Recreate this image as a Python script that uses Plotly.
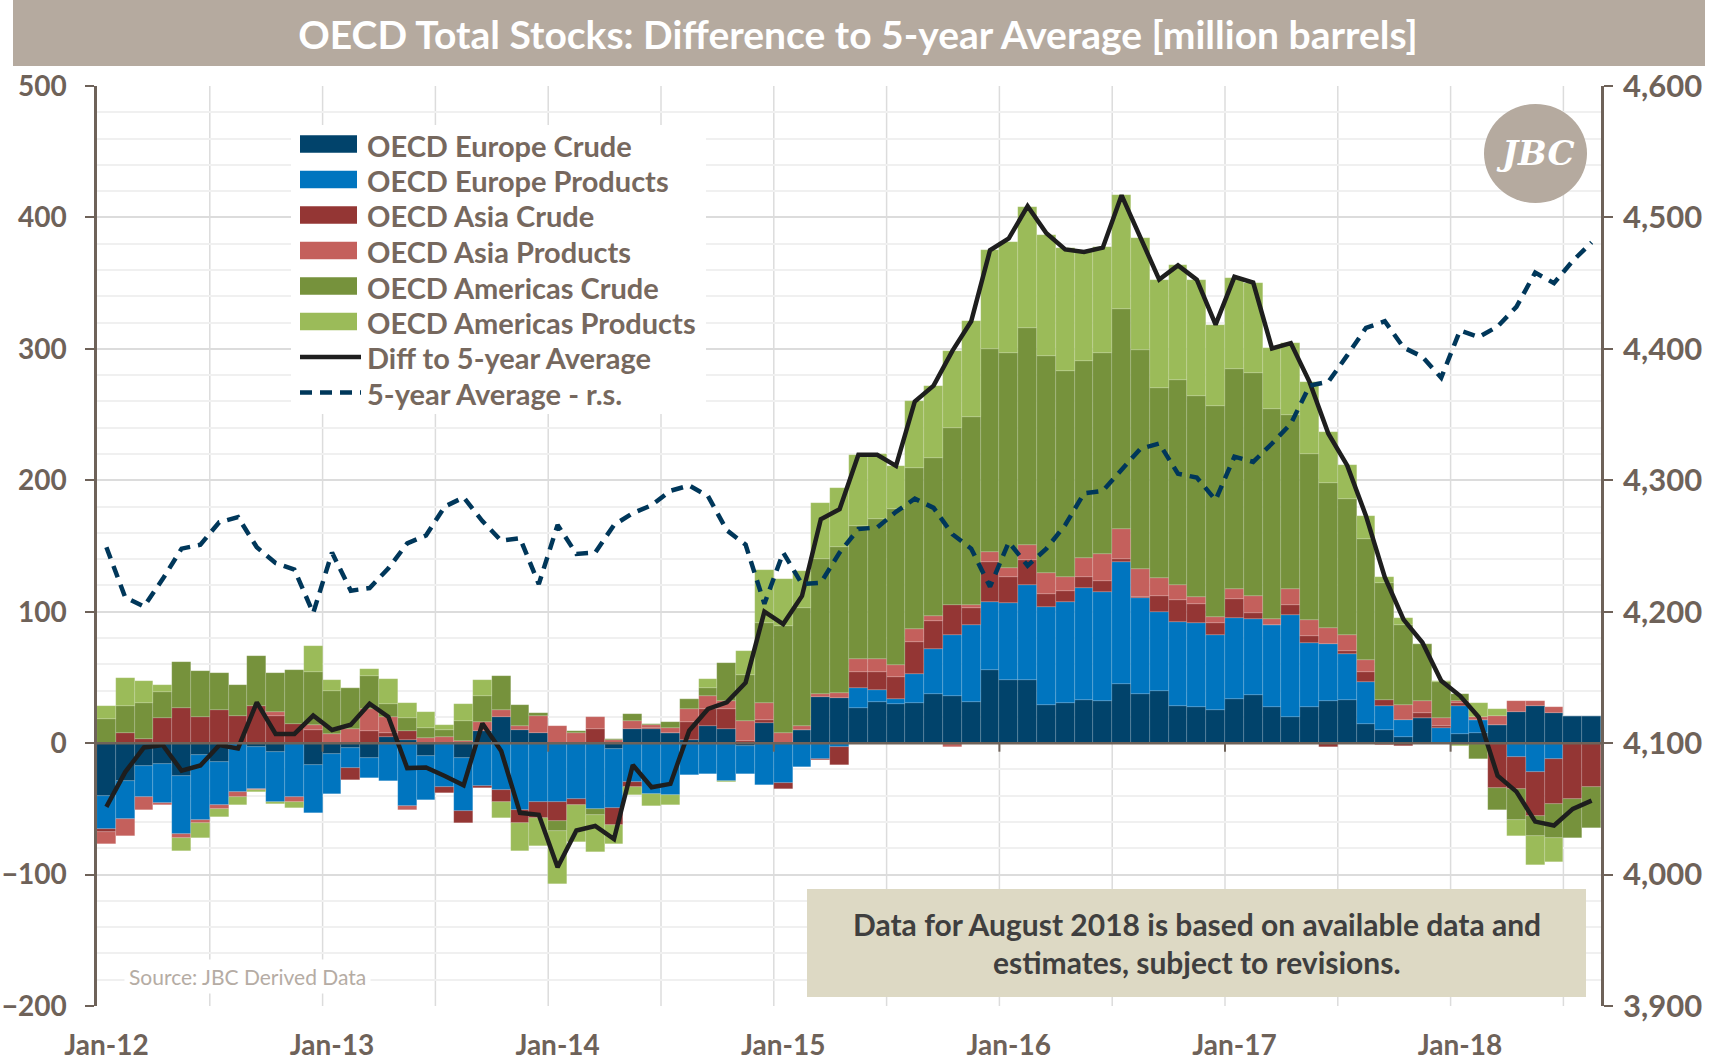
import pandas as pd
import plotly.graph_objects as go

months = list(pd.date_range("2012-01-01", periods=80, freq="MS").strftime("%b-%y"))
year_ticks = [m for m in months if m.startswith("Jan")]

eu_crude = [-40.5, -29, -17.7, -15.5, -25, -9, -14, 0, -3, -7,
            0, -16.7, -8.4, -4, -11.4, 5, 2.5, -10, 0, -11,
            9.4, 20, 10, 8, -1, 0, 0, -4.6, 10.6, 11,
            7.8, 2.5, 12.7, 10.6, -2.5, 15.7, 0, 10, 34.9, 34,
            27, 31.4, 29.7, 30.4, 37.3, 35.6, 31.4, 55.8, 48.3, 47.7,
            28.8, 30.8, 33.2, 31.7, 44.8, 37.5, 39.6, 28, 27.4, 25,
            33.8, 36.7, 27.4, 20, 27.4, 31.7, 32.6, 14.3, 9.9, 4.3,
            18.9, 0, 6.8, 8.1, 13.7, 23.8, 28.4, 22.6, 20.8, 20.8]
eu_prod = [-25, -28.6, -23, -30, -44, -49.5, -33, -37, -32, -37.5,
           -41, -36.5, -30.4, -15, -15, -29, -48, -33, -33, -40.5,
           -32.4, -35.5, -50.7, -45, -44, -42.4, -50, -44.4, -29.4, -38.6,
           -39.4, -24, -23.5, -28.6, -21, -32, -30, -18.5, -11.7, -3,
           15, 9, 3.8, 22, 34.7, 46.6, 58.3, 51.7, 58.2, 72.3,
           74.8, 76.6, 84.8, 83.5, 93.2, 72.8, 60.4, 64, 64, 57,
           61.1, 57.6, 62.6, 77.2, 48.9, 43.7, 35.5, 32, 18, 13.4,
           0, 11.2, 21.5, 9.6, 0, -10.9, -22.3, -11.7, 0, 0]
asia_crude = [-2, 7.6, 3.5, 18.8, 26.4, 20, 25.3, 21, 28, 21,
              14.4, 10, 0, -9.4, 9.4, 3, 7, 0, -5, -9.4,
              -2, -9.6, -10.4, -12, -14, -4.6, 10.6, -13.4, -3.8, 0.8,
              0, 13.7, 13.2, 15.7, 1.5, 1.8, -5, 0, -1.3, -14,
              12, 14, 16.5, 24.6, 21, 23, 13.4, 30, 19.8, 19.4,
              9.6, 8.6, 8.3, 8.2, 2, 0.7, 11.8, 16.8, 14.6, 9.4,
              14.5, 4.4, 0, 8.2, 4.9, -3.2, 2.3, 7.8, 4.7, -2,
              4, 2, 2, 0, -34.5, -24, -33, -34.7, -42.5, -33.6]
asia_prod = [-9.6, -13.4, -10, -1.5, -3, -2.3, -3, -4, -1, 2.5,
             -4, 3.5, 7, 11, 16.5, 12, -3, 4, 4.3, 1.5,
             6.8, 5.3, 3, 12.7, 12.7, 8, 9, 2.5, 6.3, 1.8,
             3.5, 10, 10, 6, 15.5, 13.4, 7.6, 3, 2.5, 4,
             10, 9.6, 9.4, 9.6, 3.8, -3, 1.8, 8, 7.3, 11.6,
             16.6, 10.3, 14.6, 20.4, 22.7, 21.7, 13.9, 11.2, 5.2, 4.3,
             8.2, 13.6, 4.3, 11.6, 12.5, 12.5, 11.6, 8.8, -1.5, 11.2,
             9.4, 5.6, 1.8, 2.5, 6.6, 8.4, 3.8, 5, 0, 0]
am_crude = [18, 21, 27, 20, 35, 35, 28.4, 23, 38.5, 30,
            41, 40.5, 33, 31, 25, 10, 10, 7.6, 5.8, 15.5,
            20, 26, 16, 2.5, -7.6, 1, -4.6, 0.5, 5.3, 1,
            5, 7.6, 6.3, 28.6, 34.7, 60.3, 81.6, 90.2, 103, 111,
            101, 106.5, 118.6, 122.4, 120.4, 134.8, 143, 154.4, 163, 165,
            164.7, 157.2, 149.8, 152.8, 167.3, 166.8, 144.7, 156, 153.3, 161,
            167.4, 169.7, 160.1, 133, 126.3, 109.7, 104, 92.5, 89.4, 61,
            43, 27.4, 5, -11.7, -16.2, -23.3, -15.2, -26, -30, -31.2]
am_prod = [10.6, 21, 17, 5.8, -10, -11, -6, -6, -1.5, -2,
           -4.3, 20, 8, 0, 5.6, 19, 11.4, 12.4, 3.5, 12.7,
           12, -12, -21, -21, -40.5, -28.4, -28, -14.5, -6.3, -8.9,
           -8, 0, 6.8, -1.3, 18.5, 40.3, 35.5, 27.9, 42.6, 45,
           54, 49.4, 33, 51, 54.6, 58.5, 73, 75, 84.4, 92,
           92.3, 93.1, 83.6, 80.6, 86.8, 85, 82.3, 87.5, 88.2, 61.7,
           69, 68.4, 46.6, 54.4, 54.7, 39.3, 25.3, 17.5, 4.3, 5.7,
           0.5, 1.3, -2.5, 10, 5.6, -12.2, -22.3, -18.3, 0, 0]
diff_5y = [-48.5, -22, -3.3, -1.5, -21, -17, -1.5, -4, 31, 7,
           7, 21, 10, 14, 30, 20, -19, -18.5, -25, -32,
           15, -6, -53, -54.5, -94.5, -66.5, -63, -73, -16.6, -33.6,
           -31, 9.5, 26, 31, 46, 100, 90.6, 112, 170.4, 178,
           219.4, 219.4, 211, 260, 272, 298.5, 321, 375, 384, 408.6,
           388, 375.7, 373.7, 377, 416.8, 385, 352.7, 363.5, 352.7, 318.4,
           354.8, 350.4, 300.3, 304.4, 274.7, 235.4, 211.3, 172.9, 126.3, 94,
           76.5, 47.5, 36, 19.7, -24.7, -36.9, -59.7, -62.7, -50, -43.7]
avg_5y = [4249, 4211, 4204, 4225, 4248, 4251, 4268, 4272, 4249, 4237,
          4232, 4199, 4245, 4216, 4218, 4233, 4252, 4258, 4280, 4287,
          4269, 4254, 4256, 4221, 4266, 4244, 4245, 4266, 4275, 4281,
          4292, 4296, 4288, 4262, 4251, 4206, 4245, 4221, 4222, 4245,
          4263, 4264, 4276, 4286, 4279, 4259, 4248, 4219, 4253, 4235,
          4248, 4266, 4290, 4292, 4308, 4324, 4328, 4305, 4302, 4285,
          4318, 4314, 4328, 4343, 4372, 4375, 4395, 4416, 4421, 4401,
          4394, 4378, 4414, 4409, 4417, 4432, 4458, 4450, 4467, 4481]

bar_series = [
    ("OECD Europe Crude", eu_crude, "#01436b"),
    ("OECD Europe Products", eu_prod, "#0075bf"),
    ("OECD Asia Crude", asia_crude, "#943634"),
    ("OECD Asia Products", asia_prod, "#c4605c"),
    ("OECD Americas Crude", am_crude, "#76923c"),
    ("OECD Americas Products", am_prod, "#9bbb59"),
]
DIFF_NAME, DIFF_COL = "Diff to 5-year Average", "#1e1e1e"
AVG_NAME, AVG_COL = "5-year Average - r.s.", "#00375a"

FONT = "Lato"
TXT = "#76685e"
AXC = "#6e6259"

# plot-area geometry (pixels) used only to place decorations
L, R, T, B = 97, 1601, 86, 1006
W, H = 1725, 1062


def px(x):
    return (x - L) / (R - L)


def py(y):
    return (B - y) / (B - T)


fig = go.Figure()
for name, vals, col in bar_series:
    fig.add_trace(go.Bar(x=months, y=vals, name=name, marker_color=col, showlegend=False,
                         marker_line_width=0.5, marker_line_color="rgba(255,255,255,0.25)"))

fig.add_trace(go.Scatter(x=months, y=diff_5y, name=DIFF_NAME, mode="lines", showlegend=False,
                         line=dict(color=DIFF_COL, width=4.5)))
fig.add_trace(go.Scatter(x=months, y=avg_5y, name=AVG_NAME, mode="lines", yaxis="y2", showlegend=False,
                         line=dict(color=AVG_COL, width=4.5, dash="12px,8px")))

shapes = []
# vertical gridlines every 6 months (category boundaries)
for k in range(6, 80, 6):
    shapes.append(dict(type="line", xref="x", yref="paper", x0=k - 0.5, x1=k - 0.5, y0=0, y1=1,
                       line=dict(color="#dcdcdc", width=1.5), layer="below"))
# horizontal category axis crossing at zero, with yearly ticks
shapes.append(dict(type="line", xref="paper", yref="y", x0=0, x1=1, y0=0, y1=0,
                   line=dict(color=AXC, width=2.5), layer="above"))
for k in range(12, 80, 12):
    shapes.append(dict(type="line", xref="x", yref="y", x0=k - 0.5, x1=k - 0.5, y0=0, y1=-6.5,
                       line=dict(color=AXC, width=2), layer="above"))
# title band
shapes.append(dict(type="rect", xref="paper", yref="paper", x0=px(13), x1=px(1705), y0=py(66), y1=py(-2),
                   fillcolor="#b5aa9f", line=dict(width=0), layer="above"))
# logo disc
shapes.append(dict(type="circle", xref="paper", yref="paper", x0=px(1484), x1=px(1587), y0=py(203), y1=py(104),
                   fillcolor="#b5aa9f", line=dict(width=0), layer="above"))
# note box
shapes.append(dict(type="rect", xref="paper", yref="paper", x0=px(807), x1=px(1586), y0=py(997), y1=py(889),
                   fillcolor="#ddd9c4", line=dict(width=0), layer="above"))

annotations = []
# legend (drawn as a panel so the swatches can be wide rectangles like the original)
shapes.append(dict(type="rect", xref="paper", yref="paper", x0=px(291), x1=px(706), y0=py(414), y1=py(125),
                   fillcolor="white", line=dict(width=0), layer="above"))
legend_items = [(n, c, "bar") for n, _, c in bar_series] + [(DIFF_NAME, DIFF_COL, "solid"),
                                                           (AVG_NAME, AVG_COL, "dash")]
for i, (name, col, kind) in enumerate(legend_items):
    yc = 144 + 35.5 * i
    if kind == "bar":
        shapes.append(dict(type="rect", xref="paper", yref="paper", x0=px(300), x1=px(357),
                           y0=py(yc + 8.7), y1=py(yc - 8.7), fillcolor=col, line=dict(width=0), layer="above"))
    else:
        shapes.append(dict(type="line", xref="paper", yref="paper", x0=px(300), x1=px(361), y0=py(yc), y1=py(yc),
                           line=dict(color=col, width=4.5, dash="solid" if kind == "solid" else "12px,8px"),
                           layer="above"))
    annotations.append(dict(text=name, xref="paper", yref="paper", x=px(365), y=py(yc + 1), xanchor="left",
                            yanchor="middle", showarrow=False,
                            font=dict(family=FONT, size=29, color=TXT, weight="bold")))

annotations += [
    dict(text="Data for August 2018 is based on available data and", xref="paper", yref="paper",
         x=px(1196.5), y=py(924), xanchor="center", yanchor="middle", showarrow=False,
         font=dict(family=FONT, size=30, color="#3f3f3f", weight="bold")),
    dict(text="estimates, subject to revisions.", xref="paper", yref="paper",
         x=px(1196.5), y=py(962), xanchor="center", yanchor="middle", showarrow=False,
         font=dict(family=FONT, size=30, color="#3f3f3f", weight="bold")),
    dict(text="Source: JBC Derived Data", xref="paper", yref="paper", x=px(124), y=py(976),
         xanchor="left", yanchor="middle", showarrow=False, bgcolor="white", borderpad=4,
         font=dict(family=FONT, size=21, color="#b5aca4")),
    dict(text="<i>JBC</i>", xref="paper", yref="paper", x=px(1535), y=py(153), xanchor="center", yanchor="middle",
         showarrow=False, font=dict(family="DejaVu Serif", size=34, color="white", weight="bold")),
]

fig.update_layout(
    width=W, height=H,
    margin=dict(l=L, r=W - R, t=T, b=H - B, autoexpand=False),
    paper_bgcolor="white", plot_bgcolor="white",
    barmode="relative", bargap=0, showlegend=False,
    title=dict(text="OECD Total Stocks: Difference to 5-year Average [million barrels]",
               x=858 / W, xanchor="center", y=1 - 35 / H, yanchor="middle", yref="container",
               font=dict(family=FONT, size=39, color="white", weight="bold")),
    shapes=shapes, annotations=annotations,
    xaxis=dict(type="category", range=[-0.5, 79.5], tickvals=year_ticks, ticktext=year_ticks,
               showgrid=False, zeroline=False, showline=False, ticks="", ticklabelstandoff=20,
               tickfont=dict(family=FONT, size=28, color=AXC, weight="bold")),
    yaxis=dict(range=[-200, 500], dtick=100, tick0=0, showgrid=True, gridcolor="#dcdcdc", gridwidth=1.5,
               minor=dict(dtick=20, tick0=0, showgrid=True, gridcolor="#f0f0f0", gridwidth=1.5),
               zeroline=False, showline=True, linecolor=AXC, linewidth=2.5,
               ticks="outside", ticklen=9, tickcolor=AXC, tickwidth=2, ticklabelstandoff=13,
               tickfont=dict(family=FONT, size=28, color=AXC, weight="bold")),
    yaxis2=dict(range=[3900, 4600], tickvals=[3900, 4000, 4100, 4200, 4300, 4400, 4500, 4600],
                tickformat=",d", overlaying="y", side="right", showgrid=False, zeroline=False,
                showline=True, linecolor=AXC, linewidth=2.5, ticks="outside", ticklen=9,
                tickcolor=AXC, tickwidth=2, ticklabelstandoff=4,
                tickfont=dict(family=FONT, size=31, color=AXC, weight="bold")),
)

fig.write_html("out.html", config={"displayModeBar": False},
               post_script="document.body.style.margin='0px';document.body.style.overflow='hidden';")
